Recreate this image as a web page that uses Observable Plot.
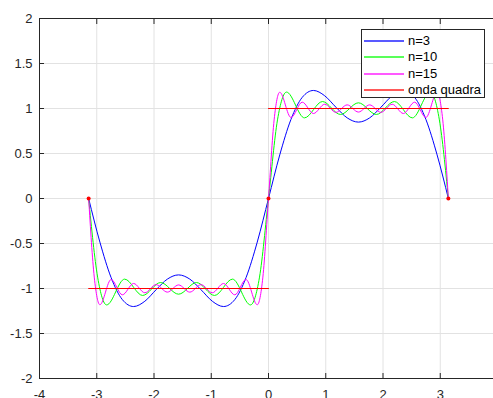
<!DOCTYPE html>
<html><head><meta charset="utf-8">
<script src="https://cdn.jsdelivr.net/npm/d3@7"></script>
<script src="https://cdn.jsdelivr.net/npm/@observablehq/plot@0.6"></script>
<style>
html,body{margin:0;padding:0;overflow:hidden;background:#fff;}
#wrap{position:relative;width:493px;height:398px;overflow:hidden;}
#wrap svg{position:absolute;left:0;top:0;max-width:none !important;width:498px !important;height:410px !important;}
#legend{position:absolute;left:361px;top:29px;width:122px;height:67px;border:1px solid #262626;background:#fff;font:13px "Liberation Sans",Arial,sans-serif;color:#000;}
.row{position:absolute;left:2px;width:118px;height:16px;line-height:16px;white-space:nowrap;}
.sw{position:absolute;left:0;top:7px;width:40px;height:2px;opacity:0.65;}
.lbl{position:absolute;left:44px;top:0;}
</style></head><body><div id="wrap"></div>
<script>
// Partial Fourier sums (n=3, n=10, n=15) and the square wave
const x3 = [-3.1416,-2.9452,-2.7489,-2.5525,-2.3562,-2.1598,-1.9635,-1.7671,-1.5708,-1.3744,-1.1781,-0.9817,-0.7854,-0.5890,-0.3927,-0.1963,0,0.1963,0.3927,0.5890,0.7854,0.9817,1.1781,1.3744,1.5708,1.7671,1.9635,2.1598,2.3562,2.5525,2.7489,2.9452,3.1416];
const y3 = [0,-0.4842,-0.8793,-1.1236,-1.2004,-1.1414,-1.0139,-0.8959,-0.8488,-0.8959,-1.0139,-1.1414,-1.2004,-1.1236,-0.8793,-0.4842,0,0.4842,0.8793,1.1236,1.2004,1.1414,1.0139,0.8959,0.8488,0.8959,1.0139,1.1414,1.2004,1.1236,0.8793,0.4842,0];

const x10 = [-3.1416,-2.9845,-2.8274,-2.5133,-2.1991,-1.8850,-1.5708,-1.2566,-0.9425,-0.6283,-0.3142,-0.1571,0,0.1571,0.3142,0.6283,0.9425,1.2566,1.5708,1.8850,2.1991,2.5133,2.8274,2.9845,3.1416];
const y10 = [0,-0.8737,-1.1823,-0.8959,-1.0773,-0.9338,-1.0631,-0.9338,-1.0773,-0.8959,-1.1823,-0.8737,0,0.8737,1.1823,0.8959,1.0773,0.9338,1.0631,0.9338,1.0773,0.8959,1.1823,0.8737,0];

const x15 = [-3.1416,-3.0434,-2.9452,-2.7489,-2.5525,-2.3562,-2.1598,-1.9635,-1.7671,-1.5708,-1.3744,-1.1781,-0.9817,-0.7854,-0.5890,-0.3927,-0.1963,-0.0982,0,0.0982,0.1963,0.3927,0.5890,0.7854,0.9817,1.1781,1.3744,1.5708,1.7671,1.9635,2.1598,2.3562,2.5525,2.7489,2.9452,3.0434,3.1416];
const y15 = [0,-0.8731,-1.1803,-0.9002,-1.0703,-0.9443,-1.0475,-0.9572,-1.0404,-0.9603,-1.0404,-0.9572,-1.0475,-0.9443,-1.0703,-0.9002,-1.1803,-0.8731,0,0.8731,1.1803,0.9002,1.0703,0.9443,1.0475,0.9572,1.0404,0.9603,1.0404,0.9572,1.0475,0.9443,1.0703,0.9002,1.1803,0.8731,0];

const sqX = [-3.1416, 0, 0, 3.1416];
const sqY = [-1, -1, 1, 1];
const sqSeg = ["a", "a", "b", "b"];
const dotX = [-3.1416, 0, 3.1416];
const dotY = [0, 0, 0];

const seriesNames = ["n=3", "n=10", "n=15", "onda quadra"];
const seriesColors = ["#0000ff", "#00ff00", "#ff00ff", "#ff0000"];

const xTicks = [-4, -3, -2, -1, 0, 1, 2, 3, 4];
const xTickLabels = ["-4", "-3", "-2", "-1", "0", "1", "2", "3", "4"];
const yTicks = [-2, -1.5, -1, -0.5, 0, 0.5, 1, 1.5, 2];
const yTickLabels = ["-2", "-1.5", "-1", "-0.5", "0", "0.5", "1", "1.5", "2"];

const curves = [[x3, y3], [x10, y10], [x15, y15]];
const axisColor = "#262626";

const chart = Plot.plot({
  width: 498, height: 410,
  marginLeft: 39, marginRight: 1, marginTop: 18, marginBottom: 32,
  style: {fontFamily: '"Liberation Sans", Arial, sans-serif', fontSize: "13px", color: axisColor, background: "#fff"},
  x: {domain: [-4, 4]},
  y: {domain: [-2, 2]},
  marks: [
    Plot.gridX(xTicks, {stroke: "#e2e2e2", strokeOpacity: 1}),
    Plot.gridY(yTicks, {stroke: "#e2e2e2", strokeOpacity: 1}),
    ...curves.map(([xs, ys], i) => Plot.line({length: xs.length}, {x: xs, y: ys, stroke: seriesColors[i], strokeWidth: 1, curve: "monotone-x"})),
    Plot.line({length: sqX.length}, {x: sqX, y: sqY, z: sqSeg, stroke: seriesColors[3], strokeWidth: 1}),
    Plot.dot({length: dotX.length}, {x: dotX, y: dotY, r: 2, fill: seriesColors[3], stroke: null}),
    Plot.frame({stroke: axisColor}),
    Plot.axisX(xTicks, {anchor: "bottom", tickSize: -5, tickPadding: 16, tickFormat: d => xTickLabels[xTicks.indexOf(d)], label: null, stroke: axisColor}),
    Plot.axisX(xTicks, {anchor: "top", tickSize: -5, tickFormat: () => "", label: null, stroke: axisColor}),
    Plot.axisY(yTicks, {anchor: "left", tickSize: -5, tickPadding: 12, tickFormat: d => yTickLabels[yTicks.indexOf(d)], label: null, stroke: axisColor}),
    Plot.axisY(yTicks, {anchor: "right", tickSize: -5, tickFormat: () => "", label: null, stroke: axisColor})
  ]
});
const wrap = document.getElementById("wrap");
wrap.appendChild(chart);

const legend = document.createElement("div");
legend.id = "legend";
seriesNames.forEach((name, i) => {
  const row = document.createElement("div");
  row.className = "row";
  row.style.top = Math.round(3 + i * 16.33) + "px";
  const sw = document.createElement("div");
  sw.className = "sw";
  sw.style.background = seriesColors[i];
  const lbl = document.createElement("div");
  lbl.className = "lbl";
  lbl.textContent = name;
  row.appendChild(sw);
  row.appendChild(lbl);
  legend.appendChild(row);
});
wrap.appendChild(legend);
</script>
</body></html>
